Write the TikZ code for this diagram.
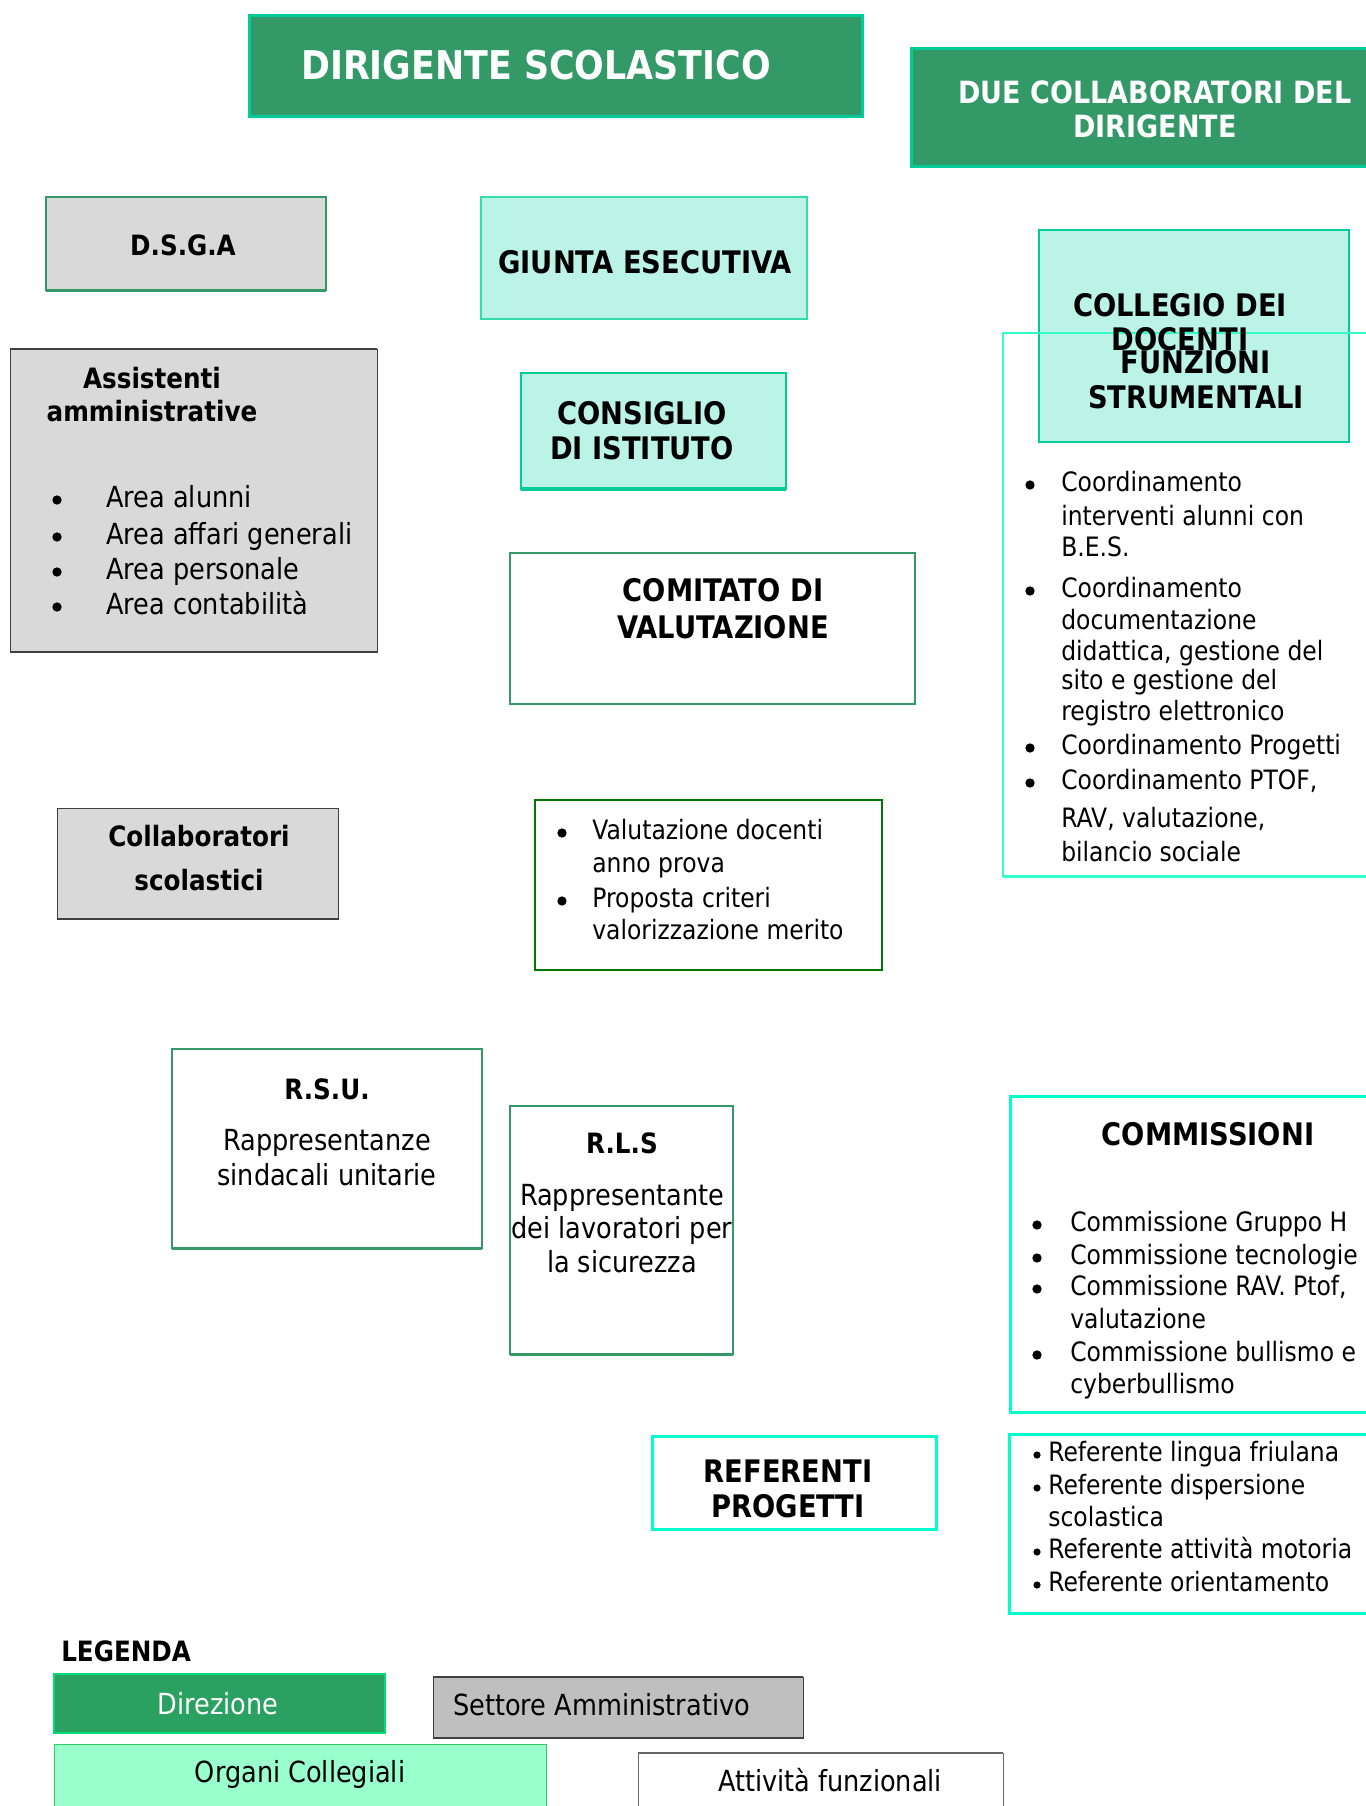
\documentclass[tikz,border=0pt]{standalone}
\usepackage{fontspec}
\setmainfont{DejaVu Sans}[FakeStretch=0.88]
\definecolor{dgreen}{HTML}{339966}
\definecolor{tealb}{HTML}{00CC99}
\definecolor{lgray}{HTML}{D9D9D9}
\definecolor{mint}{HTML}{BBF4E6}
\definecolor{mintb}{HTML}{33DDAA}
\definecolor{aqua}{HTML}{00FFCC}
\definecolor{aqual}{HTML}{33FFCC}
\definecolor{dgray}{HTML}{404040}
\definecolor{vgreen}{HTML}{007700}
\definecolor{dirfill}{HTML}{2AA160}
\definecolor{dirb}{HTML}{00DD77}
\definecolor{mgray}{HTML}{BFBFBF}
\definecolor{orgfill}{HTML}{99FFCC}
\definecolor{orgb}{HTML}{33CC66}
\begin{document}
\begin{tikzpicture}[x=0.75pt,y=-0.75pt,
  bt/.style={font=\fontsize{23.3}{27}\selectfont\bfseries, inner sep=0pt, anchor=mid},
  blt/.style={font=\fontsize{21}{25}\selectfont\bfseries, inner sep=0pt, anchor=mid},
  btw/.style={bt, text=white, font=\fontsize{23}{27}\selectfont\bfseries},
  rt/.style={font=\fontsize{20}{23}\selectfont, inner sep=0pt, anchor=mid west},
  rc/.style={font=\fontsize{21.8}{25}\selectfont, inner sep=0pt, anchor=mid},
  bul/.style={circle, fill=black, inner sep=0pt, minimum size=7pt},
  sbul/.style={circle, fill=black, inner sep=0pt, minimum size=5.4pt},
  dirbox/.style={fill=dgreen, draw=tealb, line width=2.25pt},
  graybox/.style={fill=lgray, draw=dgray, line width=0.75pt},
  mintbox/.style={fill=mint, draw=mintb, line width=1.1pt},
  greenbox/.style={fill=white, draw=dgreen, line width=1.5pt},
  aquabox/.style={fill=white, draw=aqua, line width=2.25pt}
]
\useasboundingbox (0,0) rectangle (1366,1806);
\clip (0,0) rectangle (1366,1806);
\fill[white] (0,0) rectangle (1366,1806);

% ---- boxes ----
\draw[dirbox] (249.5,15.5) rectangle (862.5,116.5);
\draw[dirbox] (911,48) rectangle (1372,166);

\draw[fill=lgray, draw=dgreen, line width=1.5pt] (46,197) rectangle (326,290);
\draw[dgreen, line width=2.25pt] (46,290) -- (326,290);

\draw[mintbox] (481,197) rectangle (807,319);
\draw[mintbox, draw=tealb] (1039,230) rectangle (1349,442);
\draw[draw=aqual, line width=1.1pt] (1003,333) rectangle (1372,876);
\draw[aqual, line width=2.25pt] (1003,876) -- (1372,876);

\draw[graybox] (10,349) rectangle (377,652);
\draw[dgray, line width=1.5pt] (10,349) -- (377,349) (10,652) -- (377,652);

\draw[mintbox, draw=tealb, line width=1.5pt] (521,373) rectangle (786,489);
\draw[tealb, line width=2.5pt] (521,489) -- (786,489);

\draw[greenbox, line width=1.9pt] (510,553) rectangle (915,704);

\draw[graybox] (57,808) rectangle (338,919);
\draw[dgray, line width=1.5pt] (57,919) -- (338,919);

\draw[fill=white, draw=vgreen, line width=1.1pt] (535,800) rectangle (882,970);

\draw[greenbox] (172,1049) rectangle (482,1248);
\draw[dgreen, line width=2.25pt] (172,1248) -- (482,1248);
\draw[greenbox] (510,1106) rectangle (733,1354);
\draw[dgreen, line width=2.25pt] (510,1354) -- (733,1354);

\draw[aquabox] (1010,1096) rectangle (1372,1412);
\draw[aquabox] (652,1436) rectangle (936,1529);
\draw[aquabox] (1009,1434) rectangle (1372,1613);

\draw[fill=dirfill, draw=dirb, line width=1.1pt] (54,1674) rectangle (385,1733);
\draw[fill=mgray, draw=dgray, line width=0.75pt] (433,1677) rectangle (803,1738);
\draw[dgray, line width=1.5pt] (433,1677) -- (803,1677) (433,1738) -- (803,1738);
\draw[fill=orgfill, draw=orgb, line width=0.75pt] (54,1744) rectangle (546,1812);
\draw[fill=white, draw=dgray!80, line width=0.75pt] (638,1753) rectangle (1003,1812);
\draw[dgray!80, line width=1.5pt] (638,1753) -- (1003,1753);

% ---- headings ----
\node[btw, font=\fontsize{29.7}{33}\selectfont\bfseries] (ds) at (536,76) {DIRIGENTE SCOLASTICO};
\node[btw] (due1) at (1155,100) {DUE COLLABORATORI DEL};
\node[btw] (due2) at (1155,134) {DIRIGENTE};
\node[blt] (dsga) at (183,252) {D.S.G.A};
\node[bt] (giunta) at (645,270) {GIUNTA ESECUTIVA};
\node[bt] (coll1) at (1180,313) {COLLEGIO DEI};
\node[bt] (coll2) at (1180,347) {DOCENTI};
\node[bt] (fs1) at (1196,370) {FUNZIONI};
\node[bt] (fs2) at (1196,405) {STRUMENTALI};
\node[blt] (ass1) at (152,385) {Assistenti};
\node[blt] (ass2) at (152,418) {amministrative};
\node[bt] (cons1) at (642,421) {CONSIGLIO};
\node[bt] (cons2) at (642,456) {DI ISTITUTO};
\node[bt] (com1) at (723,598) {COMITATO DI};
\node[bt] (com2) at (723,635) {VALUTAZIONE};
\node[blt] (cs1) at (199,843) {Collaboratori};
\node[blt] (cs2) at (199,887) {scolastici};
\node[blt] (rsu) at (327,1096) {R.S.U.};
\node[blt] (rls) at (622,1150) {R.L.S};
\node[bt] (comm) at (1208,1142) {COMMISSIONI};
\node[bt] (ref1) at (788,1479) {REFERENTI};
\node[bt] (ref2) at (788,1514) {PROGETTI};
\node[blt, anchor=mid west] (leg) at (61,1658) {LEGENDA};

% ---- regular texts ----
\node[rc] (rsu1) at (327,1147) {Rappresentanze};
\node[rc] (rsu2) at (327,1182) {sindacali unitarie};
\node[rc] (rls1) at (622,1202) {Rappresentante};
\node[rc] (rls2) at (622,1235) {dei lavoratori per};
\node[rc] (rls3) at (622,1269) {la sicurezza};

\foreach \t/\y [count=\i] in {Area alunni/497, Area affari generali/534, Area personale/569, Area contabilità/604}
  {\node[rt, font=\fontsize{21.8}{25}\selectfont] (aa\i) at (106,\y+7) {\t};
   \node[bul] (ab\i) at (57,\y+3) {};}

\foreach \t/\y [count=\i] in {{Coordinamento}/483, {interventi alunni con}/517, {B.E.S.}/548, {Coordinamento}/589, {documentazione}/621, {didattica, gestione del}/652, {sito e gestione del}/681, {registro elettronico}/712, {Coordinamento Progetti}/746, {Coordinamento PTOF,}/781, {RAV, valutazione,}/819, {bilancio sociale}/853}
  {\node[rt] (fst\i) at (1061,\y+5) {\t};}
\foreach \y [count=\i] in {483,589,746,781}
  {\node[bul] (fsb\i) at (1030,\y+2) {};}

\foreach \t/\y [count=\i] in {{Valutazione docenti}/831, {anno prova}/864, {Proposta criteri}/899, {valorizzazione merito}/931}
  {\node[rt] (vt\i) at (592,\y+5) {\t};}
\foreach \y [count=\i] in {831,899}
  {\node[bul] (vb\i) at (562,\y+2) {};}

\foreach \t/\y [count=\i] in {{Commissione Gruppo H}/1223, {Commissione tecnologie}/1256, {Commissione RAV. Ptof,}/1287, {valutazione}/1320, {Commissione bullismo e}/1353, {cyberbullismo}/1385}
  {\node[rt] (cmt\i) at (1070,\y+5) {\t};}
\foreach \y [count=\i] in {1223,1256,1287,1353}
  {\node[bul] (cmb\i) at (1037,\y+2) {};}

\foreach \t/\y [count=\i] in {{Referente lingua friulana}/1453, {Referente dispersione}/1486, {scolastica}/1518, {Referente attività motoria}/1550, {Referente orientamento}/1583}
  {\node[rt] (rft\i) at (1048,\y+5) {\t};}
\foreach \y [count=\i] in {1453,1486,1550,1583}
  {\node[sbul] (rfb\i) at (1037,\y+2) {};}

% ---- legend ----
\node[rc, text=white] (ldir) at (218,1711) {Direzione};
\node[rc, anchor=mid west] (lset) at (453,1712) {Settore Amministrativo};
\node[rc] (lorg) at (300,1779) {Organi Collegiali};
\node[rc] (latt) at (830,1788) {Attività funzionali};
\end{tikzpicture}
\end{document}
